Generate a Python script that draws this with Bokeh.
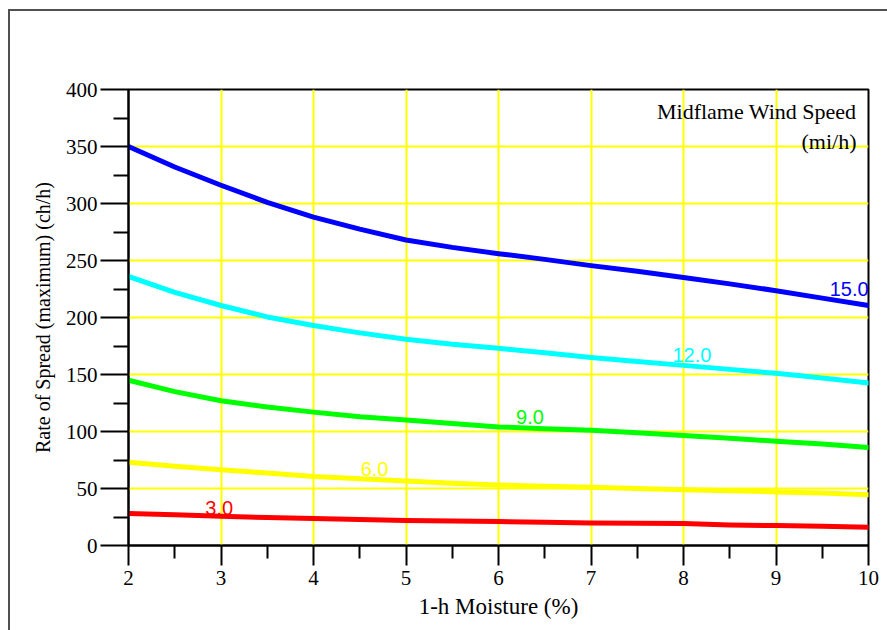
from bokeh.plotting import figure
from bokeh.models import Range1d, FixedTicker, Label, ColumnDataSource, InlineStyleSheet
from bokeh.core.properties import value
from bokeh.embed import file_html
from bokeh.resources import INLINE

# ---- data ----
moisture = [2, 2.5, 3, 3.5, 4, 4.5, 5, 5.5, 6, 6.5, 7, 7.5, 8, 8.5, 9, 9.5, 10]
ros_3 = [28, 27, 25.7, 24.5, 23.6, 22.8, 22, 21.5, 21, 20.3, 19.8, 19.5, 19.3, 18, 17.5, 16.8, 16]
ros_6 = [73, 69.5, 66.5, 63.5, 60.5, 58.5, 56.5, 54.5, 53, 52, 51, 50, 49, 48, 47, 46, 44.5]
ros_9 = [145, 135, 127, 121.5, 117, 113, 110, 107, 104, 102.5, 101, 99, 96.5, 94, 91.5, 89, 86]
ros_12 = [236, 222, 210.5, 200.5, 193, 186.5, 181, 176.5, 173, 169, 165, 161.5, 158, 154.5, 151, 147, 142.5]
ros_15 = [350, 332, 316, 301, 288, 277.5, 268, 261.5, 256, 251, 245.5, 240.5, 235, 229.5, 223.5, 217, 210.5]

wind_labels = ["3.0", "6.0", "9.0", "12.0", "15.0"]
x_ticks = [2, 3, 4, 5, 6, 7, 8, 9, 10]
y_ticks = [0, 50, 100, 150, 200, 250, 300, 350, 400]

series = [ros_3, ros_6, ros_9, ros_12, ros_15]
colors = ["#ff0000", "#ffff00", "#00ff00", "#00ffff", "#0000ff"]
# label anchor positions (data coords, left / vertical middle)
lab_x = [2.83, 4.51, 6.19, 7.88, 9.58]
lab_y = [33.3, 66.7, 113, 166.7, 224.6]

SERIF = "Liberation Serif"

p = figure(width=887, height=630, output_backend="svg", toolbar_location=None,
           x_range=Range1d(2, 10), y_range=Range1d(0, 400),
           min_border_left=128, min_border_right=19, min_border_top=89, min_border_bottom=85,
           background_fill_color="white", border_fill_color="white")

# grid
p.xgrid.ticker = FixedTicker(ticks=x_ticks[1:-1])
p.ygrid.ticker = FixedTicker(ticks=y_ticks[1:-1])
p.grid.grid_line_color = "#ffff00"
p.grid.grid_line_width = 2

# axes
p.xaxis.ticker = FixedTicker(ticks=x_ticks, minor_ticks=[x + 0.5 for x in x_ticks[:-1]])
p.yaxis.ticker = FixedTicker(ticks=y_ticks, minor_ticks=[y + 25 for y in y_ticks[:-1]])
for ax in (p.xaxis[0], p.yaxis[0]):
    ax.axis_line_color = "black"
    ax.axis_line_width = 2
    ax.major_tick_line_color = "black"
    ax.major_tick_line_width = 2
    ax.minor_tick_line_color = "black"
    ax.minor_tick_line_width = 2
    ax.major_tick_in = 0
    ax.minor_tick_in = 0
    ax.major_label_text_font = SERIF
    ax.major_label_text_font_size = "21px"
    ax.major_label_text_color = "black"
    ax.axis_label_text_font = SERIF
    ax.axis_label_text_font_style = "normal"
    ax.axis_label_text_color = "black"

p.xaxis.major_tick_out = 20
p.xaxis.minor_tick_out = 13
p.xaxis.major_label_standoff = 5
p.xaxis.axis_label = "1-h Moisture (%)"
p.xaxis.axis_label_text_font_size = "23px"
p.xaxis.axis_label_standoff = 6

p.yaxis.major_tick_out = 28
p.yaxis.minor_tick_out = 15
p.yaxis.major_label_standoff = 3
p.yaxis.axis_label = "Rate of Spread (maximum) (ch/h)"
p.yaxis.axis_label_text_font_size = "20px"
p.yaxis.axis_label_standoff = 9

p.outline_line_color = "black"
p.outline_line_width = 2
p.outline_line_alpha = 1

# curves
for ys, c in zip(series, colors):
    p.line(moisture, ys, line_color=c, line_width=5, line_join="round", line_cap="round")

src = ColumnDataSource(dict(x=lab_x, y=lab_y, t=wind_labels, c=colors))
p.text(x="x", y="y", text="t", text_color="c", source=src,
       text_font=value("Liberation Sans"), text_font_size="20px",
       text_align="left", text_baseline="middle")

p.add_layout(Label(x=9.87, y=381, text="Midflame Wind Speed", text_align="right",
                   text_baseline="middle", text_font=SERIF, text_font_size="22px",
                   text_color="black"))
p.add_layout(Label(x=9.87, y=354, text="(mi/h)", text_align="right",
                   text_baseline="middle", text_font=SERIF, text_font_size="22px",
                   text_color="black"))

# outer window frame (top and left edges), drawn with CSS on the host element
p.stylesheets = [InlineStyleSheet(css=(
    ":host { position: relative; }"
    ":host::after { content: ''; position: absolute; left: 8px; top: 9px; right: 0px; bottom: 0px;"
    " border-left: 2px solid #505050; border-top: 2px solid #505050;"
    " pointer-events: none; z-index: 10; box-sizing: border-box; }"
))]

open("out.html", "w").write(file_html(p, INLINE))
